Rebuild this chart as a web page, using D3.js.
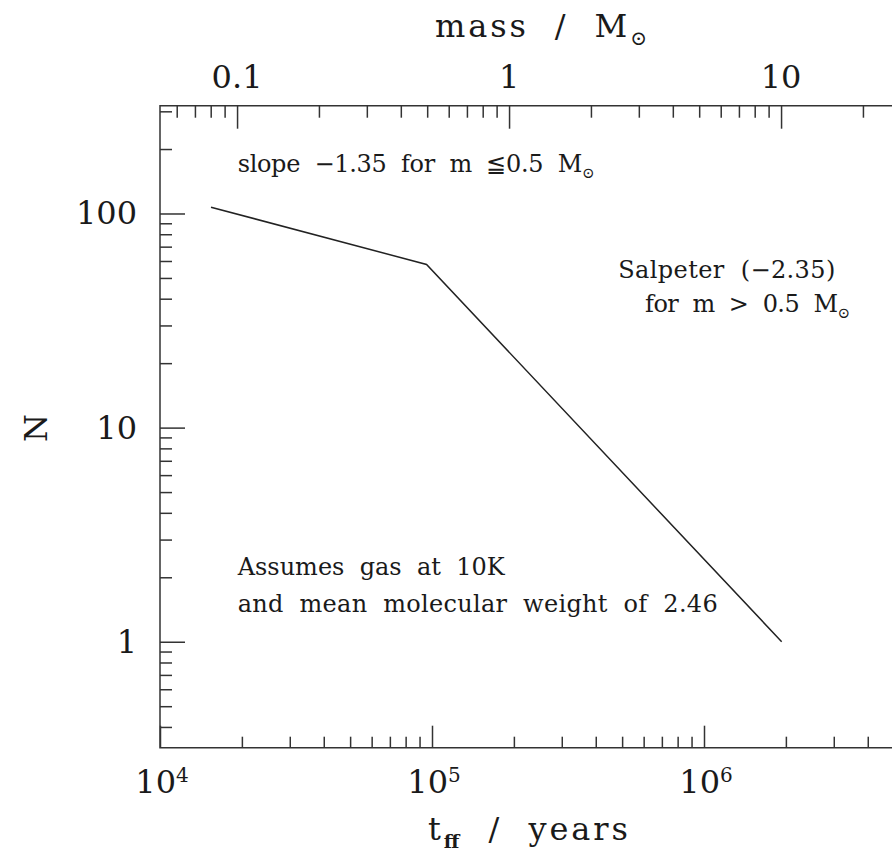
<!DOCTYPE html>
<meta charset="utf-8">
<style>
body {
  margin: 0;
  background-color: white;
}
svg {
  font-family: "DejaVu Serif", serif;
  fill: #1a1a1a;
}
svg text {
  white-space: pre;
}
.axis path {
  display: none;
}
.axis line {
  stroke: #333;
  stroke-width: 1.5px;
}
.frame {
  fill: none;
  stroke: #333;
  stroke-width: 1.5px;
}
.curve {
  fill: none;
  stroke: #222;
  stroke-width: 1.5px;
}
.tick-label {
  font-size: 32px;
}
.note {
  font-size: 24px;
}
</style>
<svg width="892" height="851"></svg>
<script src="https://d3js.org/d3.v7.min.js"></script>
<script>
// free-fall time (years) and number of objects along the IMF curve
var tff = [1.54e4, 9.55e4, 1.93e6];
var counts = [107, 57.8, 1.0];

// tick values
var xMajor = [1e4, 1e5, 1e6];
var xMinor = [2e4, 3e4, 4e4, 5e4, 6e4, 7e4, 8e4, 9e4,
              2e5, 3e5, 4e5, 5e5, 6e5, 7e5, 8e5, 9e5,
              2e6, 3e6, 4e6];
var xLabels = ["4", "5", "6"];
var yMajor = [1, 10, 100];
var yMinor = [0.4, 0.5, 0.6, 0.7, 0.8, 0.9, 2, 3, 4, 5, 6, 7, 8, 9,
              20, 30, 40, 50, 60, 70, 80, 90, 200, 300];
var yLabels = ["1", "10", "100"];
var massMajor = [0.1, 1, 10];
var massMinor = [0.06, 0.07, 0.08, 0.09, 0.2, 0.3, 0.4, 0.5, 0.6, 0.7, 0.8, 0.9,
                 2, 3, 4, 5, 6, 7, 8, 9, 20];
var massLabels = ["0.1", "1", "10"];
var massPerYear = 1 / 1.92e5;   // mass (Msun) for a given t_ff

var svg = d3.select("svg"),
    pLeft = 160, pTop = 105.7, pBottom = 747.7,
    pRight = 160 + 272 * 3;   // runs past the picture edge

var x = d3.scaleLog().domain([1e4, 1e7]).range([pLeft, pRight]);
var y = d3.scaleLog().domain([0.32, 318.7]).range([pBottom, pTop]);
var m = d3.scaleLog().domain([1e4 * massPerYear, 1e7 * massPerYear]).range([pLeft, pRight]);

svg.append("path")
    .attr("class", "frame")
    .attr("d", "M" + pRight + "," + pTop + "H" + pLeft + "V" + pBottom + "H" + pRight);

function ticks(axis, vals, size, pos) {
  svg.append("g")
      .attr("class", "axis")
      .attr("transform", pos)
      .call(axis.tickValues(vals).tickSize(size).tickFormat(""));
}
ticks(d3.axisBottom(x), xMajor, -22, "translate(0," + pBottom + ")");
ticks(d3.axisBottom(x), xMinor, -11, "translate(0," + pBottom + ")");
ticks(d3.axisTop(m), massMajor, -23, "translate(0," + pTop + ")");
ticks(d3.axisTop(m), massMinor, -12, "translate(0," + pTop + ")");
ticks(d3.axisLeft(y), yMajor, -25, "translate(" + pLeft + ",0)");
ticks(d3.axisLeft(y), yMinor, -12, "translate(" + pLeft + ",0)");

// bottom labels 10^n
var bl = svg.selectAll(".xlab")
    .data(xMajor)
  .enter().append("text")
    .attr("class", "tick-label")
    .attr("x", function(d) { return x(d) + 2; })
    .attr("y", 793)
    .attr("text-anchor", "middle");
bl.append("tspan").text("10");
bl.append("tspan")
    .attr("dy", -11)
    .style("font-size", "20px")
    .text(function(d, i) { return xLabels[i]; });

// top mass labels
svg.selectAll(".mlab")
    .data(massMajor)
  .enter().append("text")
    .attr("class", "tick-label")
    .attr("x", function(d) { return m(d); })
    .attr("y", 88)
    .attr("text-anchor", "middle")
    .text(function(d, i) { return massLabels[i]; });

// left labels
svg.selectAll(".ylab")
    .data(yMajor)
  .enter().append("text")
    .attr("class", "tick-label")
    .attr("x", 137)
    .attr("y", function(d) { return y(d) + 11; })
    .attr("text-anchor", "end")
    .text(function(d, i) { return yLabels[i]; });

// axis titles
var tt = svg.append("text").attr("class", "tick-label")
    .attr("x", 435).attr("y", 37)
    .attr("textLength", 212).attr("lengthAdjust", "spacing");
tt.append("tspan").text("mass  /  M");
tt.append("tspan").attr("dy", 8).style("font-size", "20px").text("\u2299");

var bt = svg.append("text").attr("class", "tick-label")
    .attr("x", 428).attr("y", 840)
    .attr("textLength", 200).attr("lengthAdjust", "spacing");
bt.append("tspan").text("t");
bt.append("tspan").attr("dy", 8).style("font-size", "19px").style("font-weight", "bold").text("ff");
bt.append("tspan").attr("dy", -8).text("  /  years");

svg.append("text")
    .attr("class", "tick-label")
    .attr("transform", "translate(47,428) rotate(-90)")
    .attr("text-anchor", "middle")
    .text("N");

// the curve
var pts = tff.map(function(t, i) { return [t, counts[i]]; });
svg.append("path")
    .datum(pts)
    .attr("class", "curve")
    .attr("d", d3.line()
        .x(function(d) { return x(d[0]); })
        .y(function(d) { return y(d[1]); }));

// notes, placed in data coordinates
function note(t, n, len, parts) {
  var txt = svg.append("text")
      .attr("class", "note")
      .attr("x", x(t))
      .attr("y", y(n))
      .attr("textLength", len)
      .attr("lengthAdjust", "spacing");
  parts.forEach(function(p) {
    var s = txt.append("tspan").text(p[0]);
    if (p[1]) s.attr("dy", p[1]).style("font-size", "15px");
  });
}
note(1.93e4, 156, 357, [["slope  \u22121.35  for  m  \u22660.5  M"], ["\u2299", 6]]);
note(4.84e5, 49.9, 217, [["Salpeter  (\u22122.35)"]]);
note(6.07e5, 34.7, 205, [["for  m  >  0.5  M"], ["\u2299", 6]]);
note(1.93e4, 2.05, 267, [["Assumes  gas  at  10K"]]);
note(1.93e4, 1.38, 480, [["and  mean  molecular  weight  of  2.46"]]);
</script>
